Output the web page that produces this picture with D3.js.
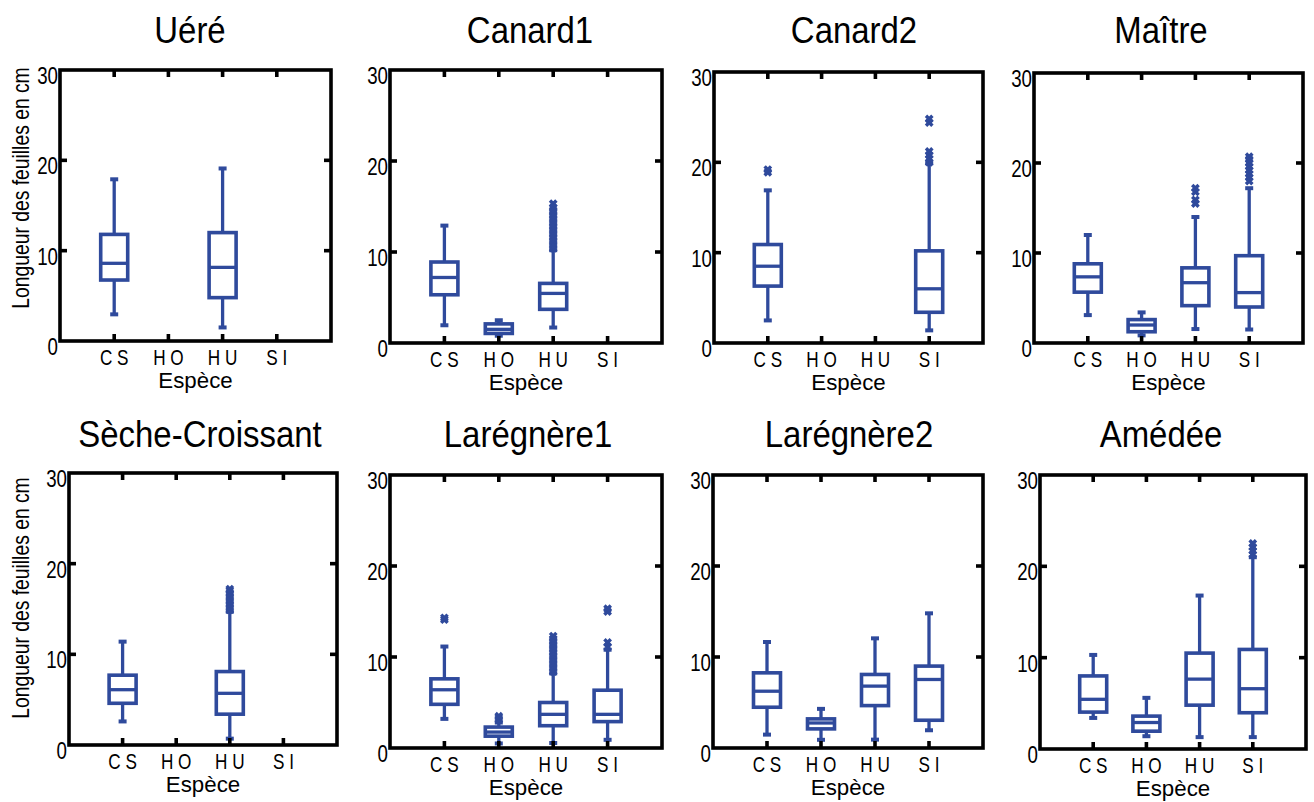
<!DOCTYPE html>
<html>
<head>
<meta charset="utf-8">
<script src="https://cdn.jsdelivr.net/npm/d3@7"></script>
<style>
html,body{margin:0;padding:0;background:#fff;}
svg{display:block;}
</style>
</head>
<body>
<svg id="chart" width="1314" height="802"></svg>
<script>
// ---------- DATA ----------
const species = ["CS", "HO", "HU", "SI"];
const speciesLabels = ["C S", "H O", "H U", "S I"];
const yTicks = [0, 10, 20, 30];
const siteNames = ["Uéré", "Canard1", "Canard2", "Maître", "Sèche-Croissant", "Larégnère1", "Larégnère2", "Amédée"];
const yLabel = "Longueur des feuilles en cm";
const xLabel = "Espèce";

// box stats: [species, lower whisker, Q1, median, Q3, upper whisker]
const statsUere = [["CS", 2.95, 6.75, 8.6, 11.8, 17.9], ["HU", 1.5, 4.8, 8.15, 12.0, 19.1]];
const statsCanard1 = [["CS", 1.95, 5.3, 7.2, 8.9, 12.9], ["HO", 0.8, 1.05, 1.5, 2.1, 2.5], ["HU", 1.7, 3.7, 5.45, 6.55, 10.2]];
const statsCanard2 = [["CS", 2.5, 6.3, 8.5, 10.9, 16.9], ["SI", 1.4, 3.4, 6.0, 10.2, 19.9]];
const statsMaitre = [["CS", 3.1, 5.65, 7.35, 8.8, 12.0], ["HO", 0.85, 1.25, 2.0, 2.6, 3.4], ["HU", 1.55, 4.15, 6.7, 8.35, 14.0], ["SI", 1.5, 4.0, 5.6, 9.7, 17.2]];
const statsSeche = [["CS", 2.6, 4.6, 6.1, 7.7, 11.4], ["HU", 0.7, 3.4, 5.7, 8.1, 14.7]];
const statsLaregnere1 = [["CS", 3.2, 4.8, 6.4, 7.6, 11.15], ["HO", 0.5, 1.3, 1.75, 2.3, 2.8], ["HU", 0.55, 2.45, 3.7, 5.0, 8.2], ["SI", 0.9, 2.9, 3.7, 6.35, 10.8]];
const statsLaregnere2 = [["CS", 1.47, 4.48, 6.24, 8.26, 11.65], ["HO", 0.9, 2.1, 2.75, 3.2, 4.3], ["HU", 0.92, 4.66, 6.8, 8.08, 12.05], ["SI", 1.95, 3.05, 7.53, 9.0, 14.8]];
const statsAmedee = [["CS", 3.4, 4.04, 5.44, 8.0, 10.3], ["HO", 1.4, 1.95, 2.9, 3.6, 5.6], ["HU", 1.3, 4.8, 7.65, 10.5, 16.8], ["SI", 1.3, 3.97, 6.6, 10.9, 21.0]];

// outliers: [species, value]
const outUere = [];
const outCanard1 = [["HU", 10.4], ["HU", 10.7], ["HU", 11.0], ["HU", 11.3], ["HU", 11.6], ["HU", 11.9], ["HU", 12.2], ["HU", 12.5], ["HU", 12.8], ["HU", 13.1], ["HU", 13.4], ["HU", 13.7], ["HU", 14.0], ["HU", 14.3], ["HU", 14.6], ["HU", 14.9], ["HU", 15.3]];
const outCanard2 = [["CS", 18.9], ["CS", 19.2], ["SI", 20.0], ["SI", 20.4], ["SI", 20.8], ["SI", 21.2], ["SI", 24.4], ["SI", 24.8]];
const outMaitre = [["HU", 15.5], ["HU", 15.9], ["HU", 16.8], ["HU", 17.2], ["SI", 18.0], ["SI", 18.4], ["SI", 18.8], ["SI", 19.2], ["SI", 19.6], ["SI", 20.0], ["SI", 20.4], ["SI", 20.7]];
const outSeche = [["HU", 14.9], ["HU", 15.2], ["HU", 15.5], ["HU", 15.8], ["HU", 16.1], ["HU", 16.4], ["HU", 16.7], ["HU", 17.0], ["HU", 17.2]];
const outLaregnere1 = [["CS", 14.1], ["CS", 14.3], ["HO", 3.1], ["HO", 3.3], ["HO", 3.5], ["HU", 8.4], ["HU", 8.7], ["HU", 9.0], ["HU", 9.3], ["HU", 9.6], ["HU", 9.9], ["HU", 10.2], ["HU", 10.5], ["HU", 10.8], ["HU", 11.1], ["HU", 11.4], ["HU", 11.7], ["HU", 12.0], ["HU", 12.3], ["SI", 11.1], ["SI", 11.6], ["SI", 15.0], ["SI", 15.3]];
const outLaregnere2 = [];
const outAmedee = [["SI", 21.3], ["SI", 21.7], ["SI", 22.1], ["SI", 22.5]];

// ---------- LAYOUT ----------
const panelBoxes = [
  {l: 60, t: 70, r: 331, b: 341, tx: 190, ty: 43, ylc: 188},
  {l: 390, t: 70, r: 662, b: 343, tx: 530, ty: 43},
  {l: 714, t: 72, r: 983, b: 343, tx: 854, ty: 43},
  {l: 1034, t: 73, r: 1303, b: 343, tx: 1161, ty: 43},
  {l: 69, t: 473, r: 337, b: 745, tx: 200, ty: 447, ylc: 598},
  {l: 390, t: 475, r: 662, b: 748, tx: 528, ty: 447},
  {l: 713, t: 475, r: 983, b: 748, tx: 849, ty: 447},
  {l: 1040, t: 475, r: 1306, b: 749, tx: 1161, ty: 447}
];
const allStats = [statsUere, statsCanard1, statsCanard2, statsMaitre, statsSeche, statsLaregnere1, statsLaregnere2, statsAmedee];
const allOut = [outUere, outCanard1, outCanard2, outMaitre, outSeche, outLaregnere1, outLaregnere2, outAmedee];

const BLUE = "#2f4a9c";
const REG = "'Liberation Sans', Arial, Helvetica, sans-serif";

const svg = d3.select("#chart");

function label(g, x, y, txt, size, sx, anchor, rot) {
  return g.append("text")
    .attr("transform", `translate(${x},${y})${rot ? " rotate(" + rot + ")" : ""} scale(${sx},1)`)
    .attr("text-anchor", anchor).attr("font-family", REG).attr("font-size", size)
    .attr("fill", "#000").text(txt);
}

panelBoxes.forEach((p, i) => {
  const g = svg.append("g");
  const x = d3.scalePoint().domain(species).range([p.l, p.r]).padding(1);
  const y = d3.scaleLinear().domain([0, 30]).range([p.b, p.t]);

  // title
  label(g, p.tx, p.ty, siteNames[i], 37, 0.89, "middle");

  // y tick labels
  yTicks.forEach(v => label(g, p.l - 2, y(v) + 14, String(v), 24, 0.78, "end"));

  // x tick labels
  species.forEach((d, k) => label(g, x(d), p.b + 24, speciesLabels[k], 22, 0.78, "middle"));

  // x axis label
  label(g, (p.l + p.r) / 2, p.b + 47, xLabel, 23, 0.97, "middle");

  if (p.ylc) label(g, 29, p.ylc, yLabel, 23, 0.84, "middle", -90);

  // boxes
  const stats = allStats[i];
  const bw = 27, cw = 8;
  const bg = g.append("g").attr("stroke", BLUE).attr("stroke-width", 3.3).attr("fill", "none");
  stats.forEach(s => {
    const cx = x(s[0]);
    bg.append("line").attr("x1", cx).attr("x2", cx).attr("y1", y(s[1])).attr("y2", y(s[2]));
    bg.append("line").attr("x1", cx).attr("x2", cx).attr("y1", y(s[4])).attr("y2", y(s[5]));
    bg.append("line").attr("x1", cx - cw / 2).attr("x2", cx + cw / 2).attr("y1", y(s[1])).attr("y2", y(s[1])).attr("stroke-width", 4);
    bg.append("line").attr("x1", cx - cw / 2).attr("x2", cx + cw / 2).attr("y1", y(s[5])).attr("y2", y(s[5])).attr("stroke-width", 4);
    bg.append("rect").attr("x", cx - bw / 2).attr("width", bw).attr("y", y(s[4])).attr("height", y(s[2]) - y(s[4])).attr("stroke-width", 3.6);
    bg.append("line").attr("x1", cx - bw / 2).attr("x2", cx + bw / 2).attr("y1", y(s[3])).attr("y2", y(s[3]));
  });

  // outliers
  g.selectAll(".out").data(allOut[i]).enter().append("path")
    .attr("transform", d => `translate(${x(d[0])},${y(d[1])})`)
    .attr("d", "M-3.2,-3.2L3.2,3.2M-3.2,3.2L3.2,-3.2")
    .attr("stroke", BLUE).attr("stroke-width", 3.4).attr("fill", "none");

  // frame & ticks
  const fg = g.append("g").attr("stroke", "#000").attr("stroke-width", 3.6).attr("fill", "none");
  fg.append("rect").attr("x", p.l).attr("y", p.t).attr("width", p.r - p.l).attr("height", p.b - p.t);
  const tl = 7;
  species.forEach(d => {
    fg.append("line").attr("x1", x(d)).attr("x2", x(d)).attr("y1", p.t).attr("y2", p.t + tl);
    fg.append("line").attr("x1", x(d)).attr("x2", x(d)).attr("y1", p.b).attr("y2", p.b - tl);
  });
  yTicks.filter(v => v > 0 && v < 30).forEach(v => {
    fg.append("line").attr("x1", p.l).attr("x2", p.l + tl).attr("y1", y(v)).attr("y2", y(v));
    fg.append("line").attr("x1", p.r).attr("x2", p.r - tl).attr("y1", y(v)).attr("y2", y(v));
  });
});
</script>
</body>
</html>
